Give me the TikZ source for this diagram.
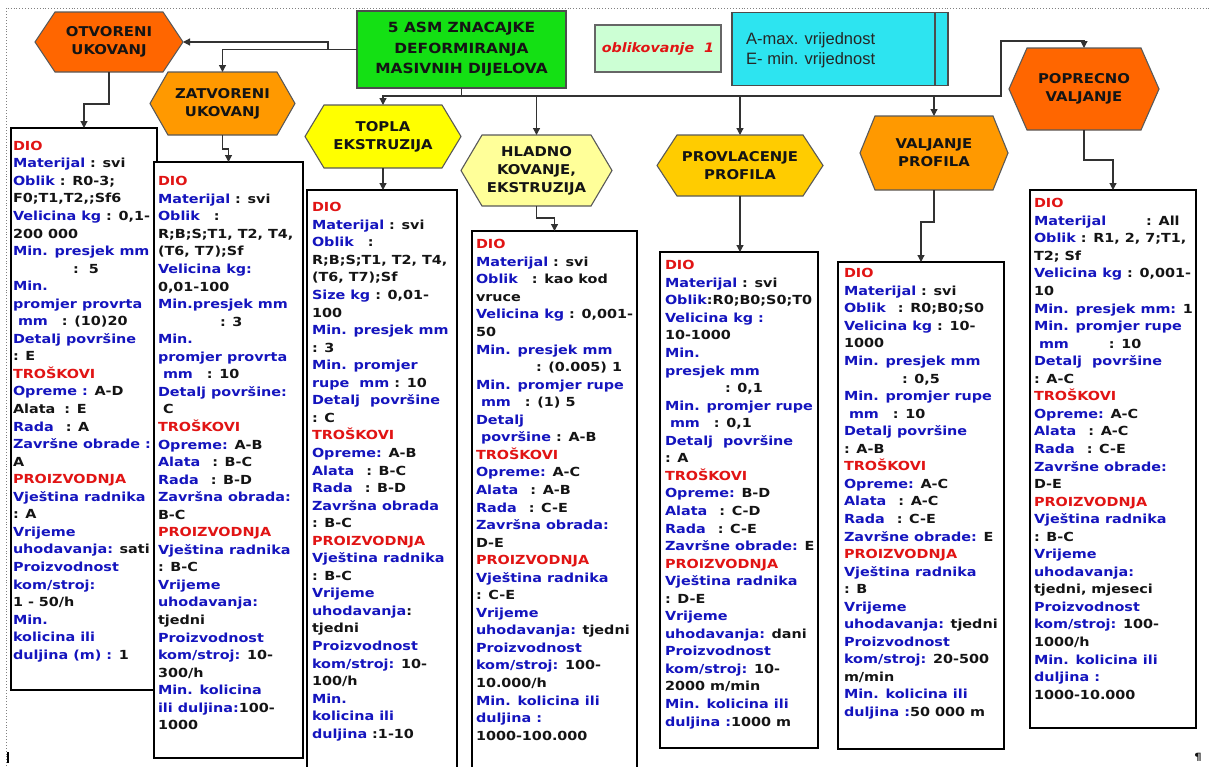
\documentclass[tikz,border=0pt]{standalone}
\usepackage{fontspec}
\usetikzlibrary{arrows.meta}
\newfontfamily\vb[FakeStretch=1.15]{DejaVu Sans}
\newfontfamily\vh[FakeStretch=1.1]{DejaVu Sans}
\newfontfamily\ar{Liberation Sans}
\definecolor{hred}{RGB}{225,20,20}
\definecolor{hblue}{RGB}{20,20,190}
\definecolor{txt}{RGB}{20,20,20}
\definecolor{orA}{RGB}{255,102,0}
\definecolor{orB}{RGB}{255,153,0}
\definecolor{yeA}{RGB}{255,255,0}
\definecolor{yeB}{RGB}{255,255,153}
\definecolor{goC}{RGB}{255,204,0}
\definecolor{grT}{RGB}{20,224,20}
\definecolor{mint}{RGB}{204,255,212}
\definecolor{cyn}{RGB}{45,228,240}
\definecolor{lin}{RGB}{50,50,50}
\newcommand\rd[1]{\textcolor{hred}{#1}}
\newcommand\bl[1]{\textcolor{hblue}{#1}}
\newcommand\hexa[8]{%
 \filldraw[hexline, fill=#7] ({#2-#4/2},#3) -- ({#2-#4/2+#6},{#3-#5/2}) -- ({#2+#4/2-#6},{#3-#5/2}) -- ({#2+#4/2},#3) -- ({#2+#4/2-#6},{#3+#5/2}) -- ({#2-#4/2+#6},{#3+#5/2}) -- cycle;
 \node[hextxt, minimum width=#4, minimum height=#5] (#1) at (#2,#3) {#8};}
\tikzset{
 hexline/.style={draw=black!65, line width=1.1},
 hextxt/.style={inner sep=0, outer sep=0, align=center, text=txt, font=\vh\bfseries\fontsize{13.5}{18}\selectfont},
 bx/.style={draw=black, line width=1.4, fill=white, inner sep=0, outer sep=0, anchor=north west},
 bt/.style={inner sep=0, outer sep=0, anchor=north west, align=left, text=txt, font=\vb\bfseries\fontsize{12.5}{17.55}\selectfont},
 conn/.style={draw=lin, line width=1.2},
 arr/.style={conn, -{Triangle[width=7pt,length=7pt]}}
}
\begin{document}
\begin{tikzpicture}[x=1pt,y=-1pt]
\useasboundingbox (0,0) rectangle (1210,766);
% frame
\draw[gray, dotted, line width=0.9] (6,766) -- (6,8) -- (1210,8);
\draw[black, line width=1.2] (8,752) -- (8,763);
\node[text=txt, font=\vb\bfseries\fontsize{10}{10}\selectfont] (pil) at (1198,757) {¶};

% title and legend
\node[draw=black!70, line width=1.2, fill=grT, minimum width=209, minimum height=77, inner sep=0, outer sep=0, align=center, text=txt, font=\vh\bfseries\fontsize{14}{20.5}\selectfont] (title) at (461.5,49.5) {5 ASM ZNACAJKE\\DEFORMIRANJA\\MASIVNIH DIJELOVA};
\node[draw=black!60, line width=1.2, fill=mint, minimum width=126, minimum height=47, inner sep=0, outer sep=0, text=hred, font=\vh\bfseries\itshape\fontsize{13}{15}\selectfont] (obl) at (658,48.5) {oblikovanje\ \ 1};
\node[draw=black!70, line width=1.2, fill=cyn, minimum width=216, minimum height=73, inner sep=0, outer sep=0] (leg) at (840,49) {};
\draw[black!70, line width=1.2] ([xshift=-13]leg.north east) -- ([xshift=-13]leg.south east);
\node[anchor=north west, inner sep=0, align=left, text=black!85, font=\ar\fontsize{16.5}{20}\selectfont] (legt) at (746,32) {A-max. vrijednost\\E- min. vrijednost};

% hexagons
\hexa{otv}{109}{42}{148}{60}{20}{orA}{OTVORENI\\UKOVANJ}
\hexa{zat}{222.5}{103.5}{145}{63}{18}{orB}{ZATVORENI\\UKOVANJ}
\hexa{topla}{383}{136.5}{156}{63}{19}{yeA}{TOPLA\\EKSTRUZIJA}
\hexa{hlad}{536.5}{170.5}{151}{71}{21}{yeB}{HLADNO\\KOVANJE,\\EKSTRUZIJA}
\hexa{prov}{740}{165.5}{166}{61}{20}{goC}{PROVLACENJE\\PROFILA}
\hexa{valj}{934}{153}{148}{74}{15}{orB}{VALJANJE\\PROFILA}
\hexa{pop}{1084}{89}{150}{82}{18}{orA}{POPRECNO\\VALJANJE}

% connectors from title
\coordinate (pj) at (1001,41);
\draw[arr] (title.west) -- ++(-29,0) |- (otv.east);
\draw[arr] (title.west) -| (zat.north);
\draw[arr] (title.south) -- ++(0,8) -| (topla.north);
\draw[arr] (title.south) -- ++(0,8) -| (hlad.north);
\draw[arr] (title.south) -- ++(0,8) -| (prov.north);
\draw[arr] (title.south) -- ++(0,8) -| (valj.north);
\draw[arr] (title.south) -- ++(0,8) -| (pj) -| (pop.north);

% boxes
\node[bx, minimum width=146, minimum height=562] (box1) at (11,128) {};
\node[bt] (t1) at (13,141) {\rd{DIO}\\
\bl{Materijal} : svi\\
\bl{Oblik} : R0-3;\\
F0;T1,T2,;Sf6\\
\bl{Velicina kg} : 0,1-\\
200 000\\
\bl{Min. presjek mm}\\
\hspace*{60pt}:\ \ 5\\
\bl{Min.}\\
\bl{promjer provrta}\\
\bl{\ mm}\hspace*{14pt}: (10)20\\
\bl{Detalj površine}\\
: E\\
\rd{TROŠKOVI}\\
\bl{Opreme :} A-D\\
Alata\hspace*{9pt}: E\\
\bl{Rada}\hspace*{12pt}: A\\
\bl{Završne obrade :}\\
A\\
\rd{PROIZVODNJA}\\
\bl{Vještina radnika}\\
: A\\
\bl{Vrijeme}\\
\bl{uhodavanja:} sati\\
\bl{Proizvodnost}\\
\bl{kom/stroj:}\\
1 - 50/h\\
\bl{Min.}\\
\bl{kolicina ili}\\
\bl{duljina (m) :} 1};

\node[bx, minimum width=149, minimum height=596] (box2) at (154,162) {};
\node[bt] (t2) at (158,176.5) {\rd{DIO}\\
\bl{Materijal} : svi\\
\bl{Oblik}\hspace*{14pt}:\\
R;B;S;T1, T2, T4,\\
(T6, T7);Sf\\
\bl{Velicina kg:}\\
0,01-100\\
\bl{Min.presjek mm}\\
\hspace*{62pt}: 3\\
\bl{Min.}\\
\bl{promjer provrta}\\
\bl{\ mm}\hspace*{14pt}: 10\\
\bl{Detalj površine:}\\
\ C\\
\rd{TROŠKOVI}\\
\bl{Opreme:} A-B\\
\bl{Alata}\hspace*{12pt}: B-C\\
\bl{Rada}\hspace*{12pt}: B-D\\
\bl{Završna obrada:}\\
B-C\\
\rd{PROIZVODNJA}\\
\bl{Vještina radnika}\\
: B-C\\
\bl{Vrijeme}\\
\bl{uhodavanja:}\\
tjedni\\
\bl{Proizvodnost}\\
\bl{kom/stroj:} 10-\\
300/h\\
\bl{Min. kolicina}\\
\bl{ili duljina:}100-\\
1000};

\node[bx, minimum width=150, minimum height=585] (box3) at (307,190) {};
\node[bt] (t3) at (312,202.5) {\rd{DIO}\\
\bl{Materijal} : svi\\
\bl{Oblik}\hspace*{14pt}:\\
R;B;S;T1, T2, T4,\\
(T6, T7);Sf\\
\bl{Size kg} : 0,01-\\
100\\
\bl{Min. presjek mm}\\
: 3\\
\bl{Min. promjer}\\
\bl{rupe\ \ mm} : 10\\
\bl{Detalj\ \ površine}\\
: C\\
\rd{TROŠKOVI}\\
\bl{Opreme:} A-B\\
\bl{Alata}\hspace*{12pt}: B-C\\
\bl{Rada}\hspace*{12pt}: B-D\\
\bl{Završna obrada}\\
: B-C\\
\rd{PROIZVODNJA}\\
\bl{Vještina radnika}\\
: B-C\\
\bl{Vrijeme}\\
\bl{uhodavanja}:\\
tjedni\\
\bl{Proizvodnost}\\
\bl{kom/stroj:} 10-\\
100/h\\
\bl{Min.}\\
\bl{kolicina ili}\\
\bl{duljina} :1-10};

\node[bx, minimum width=165, minimum height=544] (box4) at (472,231) {};
\node[bt] (t4) at (476,239.5) {\rd{DIO}\\
\bl{Materijal} : svi\\
\bl{Oblik}\hspace*{14pt}: kao kod\\
vruce\\
\bl{Velicina kg} : 0,001-\\
50\\
\bl{Min. presjek mm}\\
\hspace*{60pt}: (0.005) 1\\
\bl{Min. promjer rupe}\\
\bl{\ mm}\hspace*{14pt}: (1) 5\\
\bl{Detalj}\\
\bl{\ površine} : A-B\\
\rd{TROŠKOVI}\\
\bl{Opreme:} A-C\\
\bl{Alata}\hspace*{12pt}: A-B\\
\bl{Rada}\hspace*{12pt}: C-E\\
\bl{Završna obrada:}\\
D-E\\
\rd{PROIZVODNJA}\\
\bl{Vještina radnika}\\
: C-E\\
\bl{Vrijeme}\\
\bl{uhodavanja:} tjedni\\
\bl{Proizvodnost}\\
\bl{kom/stroj:} 100-\\
10.000/h\\
\bl{Min. kolicina ili}\\
\bl{duljina :}\\
1000-100.000};

\node[bx, minimum width=158, minimum height=496] (box5) at (660,252) {};
\node[bt] (t5) at (665,260.5) {\rd{DIO}\\
\bl{Materijal} : svi\\
\bl{Oblik}:R0;B0;S0;T0\\
\bl{Velicina kg :}\\
10-1000\\
\bl{Min.}\\
\bl{presjek mm}\\
\hspace*{60pt}: 0,1\\
\bl{Min. promjer rupe}\\
\bl{\ mm}\hspace*{14pt}: 0,1\\
\bl{Detalj\ \ površine}\\
: A\\
\rd{TROŠKOVI}\\
\bl{Opreme:} B-D\\
\bl{Alata}\hspace*{12pt}: C-D\\
\bl{Rada}\hspace*{12pt}: C-E\\
\bl{Završne obrade:} E\\
\rd{PROIZVODNJA}\\
\bl{Vještina radnika}\\
: D-E\\
\bl{Vrijeme}\\
\bl{uhodavanja:} dani\\
\bl{Proizvodnost}\\
\bl{kom/stroj:} 10-\\
2000 m/min\\
\bl{Min. kolicina ili}\\
\bl{duljina :}1000 m};

\node[bx, minimum width=166, minimum height=487] (box6) at (838,262) {};
\node[bt] (t6) at (844,268.5) {\rd{DIO}\\
\bl{Materijal} : svi\\
\bl{Oblik}\hspace*{12pt}: R0;B0;S0\\
\bl{Velicina kg} : 10-\\
1000\\
\bl{Min. presjek mm}\\
\hspace*{58pt}: 0,5\\
\bl{Min. promjer rupe}\\
\bl{\ mm}\hspace*{14pt}: 10\\
\bl{Detalj površine}\\
: A-B\\
\rd{TROŠKOVI}\\
\bl{Opreme:} A-C\\
\bl{Alata}\hspace*{12pt}: A-C\\
\bl{Rada}\hspace*{12pt}: C-E\\
\bl{Završne obrade:} E\\
\rd{PROIZVODNJA}\\
\bl{Vještina radnika}\\
: B\\
\bl{Vrijeme}\\
\bl{uhodavanja:} tjedni\\
\bl{Proizvodnost}\\
\bl{kom/stroj:} 20-500\\
m/min\\
\bl{Min. kolicina ili}\\
\bl{duljina :}50 000 m};

\node[bx, minimum width=166, minimum height=538] (box7) at (1030,190) {};
\node[bt] (t7) at (1034,198.5) {\rd{DIO}\\
\bl{Materijal}\hspace*{40pt}: All\\
\bl{Oblik} : R1, 2, 7;T1,\\
T2; Sf\\
\bl{Velicina kg} : 0,001-\\
10\\
\bl{Min. presjek mm:} 1\\
\bl{Min. promjer rupe}\\
\bl{\ mm}\hspace*{40pt}: 10\\
\bl{Detalj\ \ površine}\\
: A-C\\
\rd{TROŠKOVI}\\
\bl{Opreme:} A-C\\
\bl{Alata}\hspace*{12pt}: A-C\\
\bl{Rada}\hspace*{12pt}: C-E\\
\bl{Završne obrade:}\\
D-E\\
\rd{PROIZVODNJA}\\
\bl{Vještina radnika}\\
: B-C\\
\bl{Vrijeme}\\
\bl{uhodavanja:}\\
tjedni, mjeseci\\
\bl{Proizvodnost}\\
\bl{kom/stroj:} 100-\\
1000/h\\
\bl{Min. kolicina ili}\\
\bl{duljina :}\\
1000-10.000};

% connectors hexagon -> box
\draw[arr] (otv.south) -- ++(0,32) -| (box1.north);
\draw[arr] (zat.south) -- ++(0,14) -| (box2.north);
\draw[arr] (topla.south) -- (topla.south |- box3.north);
\draw[arr] (hlad.south) -- ++(0,12) -| (box4.north);
\draw[arr] (prov.south) -- (prov.south |- box5.north);
\draw[arr] (valj.south) -- ++(0,32) -| (box6.north);
\draw[arr] (pop.south) -- ++(0,30) -| (box7.north);
\end{tikzpicture}
\end{document}
